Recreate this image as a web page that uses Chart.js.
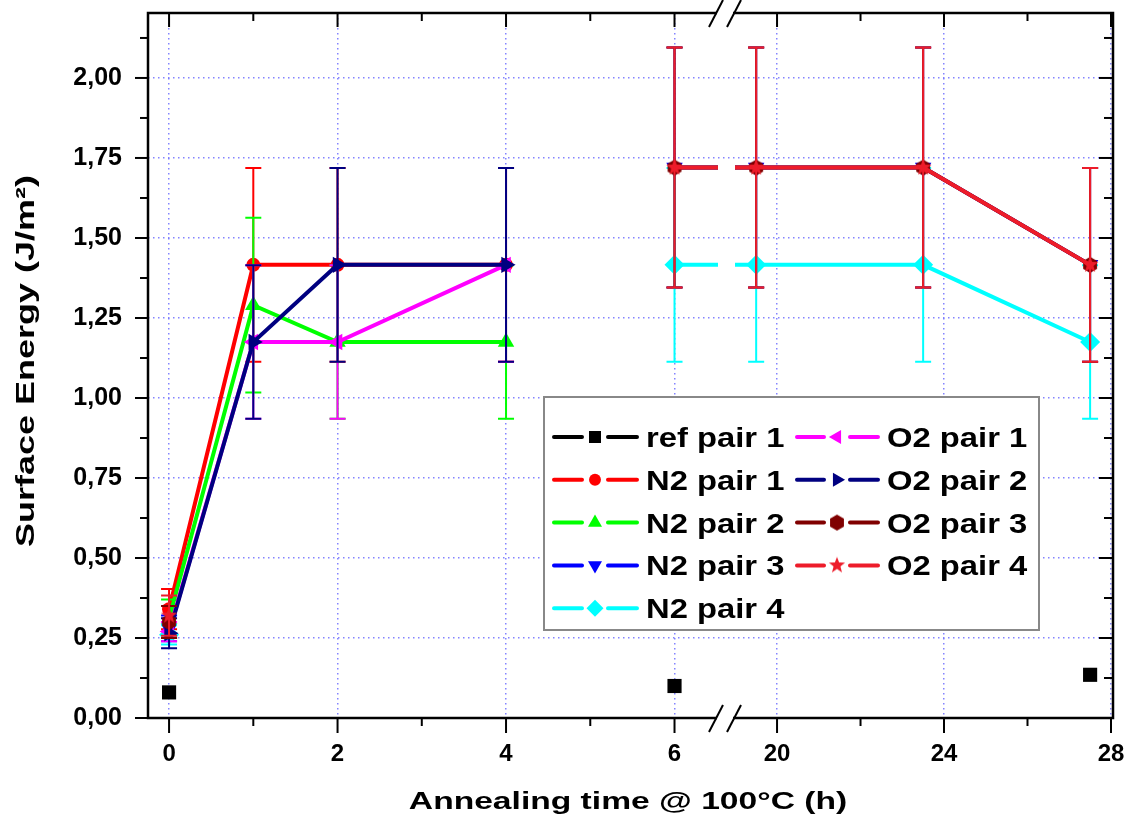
<!DOCTYPE html>
<html>
<head>
<meta charset="utf-8">
<script src="https://cdn.jsdelivr.net/npm/chart.js@4.4.1/dist/chart.umd.min.js"></script>
<style>
  html, body { margin: 0; padding: 0; background: #fff; }
</style>
</head>
<body>
<canvas id="surfChart" width="1128" height="828"></canvas>
<script>
const hours = [0, 1, 2, 4, 6, 19.5, 23.5, 27.5];
const xTickHours = [0, 2, 4, 6, 20, 24, 28];
const xMinorHours = [1, 3, 5, 22, 26];
const yTicks = [0, 0.25, 0.5, 0.75, 1.0, 1.25, 1.5, 1.75, 2.0];

const seriesNames = ['ref pair 1', 'N2 pair 1', 'N2 pair 2', 'N2 pair 3', 'N2 pair 4',
                     'O2 pair 1', 'O2 pair 2', 'O2 pair 3', 'O2 pair 4'];

const refPair1 = [0.08, null, null, null, 0.10, null, null, 0.135];
const n2Pair1  = [0.34, 1.416, 1.416, 1.416, null, null, null, null];
const n2Pair2  = [0.31, 1.29, 1.175, 1.175, null, null, null, null];
const n2Pair3  = [0.28, null, null, null, 1.72, 1.72, 1.72, 1.416];
const n2Pair4  = [0.26, null, null, null, 1.416, 1.416, 1.416, 1.175];
const o2Pair1  = [0.27, 1.175, 1.175, 1.416, null, null, null, null];
const o2Pair2  = [0.265, 1.175, 1.416, 1.416, null, null, null, null];
const o2Pair3  = [0.30, null, null, null, 1.72, 1.72, 1.72, 1.416];
const o2Pair4  = [0.32, null, null, null, 1.72, 1.72, 1.72, 1.416];

// error bar half-widths
const refErr   = [0, 0, 0, 0, 0, 0, 0, 0];
const n2Err1   = [0.063, 0.303, 0.303, 0.303, 0, 0, 0, 0];
const n2Err2   = [0.06, 0.273, 0.24, 0.24, 0, 0, 0, 0];
const n2Err3   = [0.04, 0, 0, 0, 0.375, 0.375, 0.375, 0.303];
const n2Err4   = [0.03, 0, 0, 0, 0.303, 0.303, 0.303, 0.24];
const o2Err1   = [0.03, 0.24, 0.24, 0.303, 0, 0, 0, 0];
const o2Err2   = [0.047, 0.24, 0.303, 0.303, 0, 0, 0, 0];
const o2Err3   = [0.05, 0, 0, 0, 0.375, 0.375, 0.375, 0.303];
const o2Err4   = [0.063, 0, 0, 0, 0.375, 0.375, 0.375, 0.303];

// broken x axis: 0..6 h at full scale, 20..28 h at about half scale
const RESUME_U = 7.217, RIGHT_RATIO = 0.4955;
const GAP_U0 = 6.516, GAP_U1 = 6.718;
function toU(h) { return h <= 6 ? h : RESUME_U + (h - 20) * RIGHT_RATIO; }
function fromU(u) { return u <= 6.5 ? u : 20 + (u - RESUME_U) / RIGHT_RATIO; }

function shapeCanvas(color, size, drawFn) {
  const c = document.createElement('canvas');
  c.width = c.height = size;
  const g = c.getContext('2d');
  g.fillStyle = color;
  g.beginPath();
  drawFn(g, size / 2);
  g.closePath();
  g.fill();
  return c;
}
const hexagon = shapeCanvas('#800000', 18, (g, r) => {
  for (let k = 0; k < 6; k++) {
    const a = -Math.PI / 2 + k * Math.PI / 3;
    g.lineTo(r + (r - 1) * Math.cos(a), r + (r - 1) * Math.sin(a));
  }
});
const star = shapeCanvas('#ed1c2a', 18, (g, r) => {
  for (let k = 0; k < 10; k++) {
    const a = -Math.PI / 2 + k * Math.PI / 5;
    const rr = k % 2 ? 3.6 : r - 0.5;
    g.lineTo(r + rr * Math.cos(a), r + rr * Math.sin(a));
  }
});

const values = [refPair1, n2Pair1, n2Pair2, n2Pair3, n2Pair4, o2Pair1, o2Pair2, o2Pair3, o2Pair4];
const errors = [refErr, n2Err1, n2Err2, n2Err3, n2Err4, o2Err1, o2Err2, o2Err3, o2Err4];
const colors = ['#000000', '#ff0000', '#00ff00', '#0000ff', '#00ffff', '#ff00ff', '#000080', '#800000', '#ed1c2a'];
const styles = [
  {pointStyle: 'rect', radius: 10, rotation: 0},
  {pointStyle: 'circle', radius: 7, rotation: 0},
  {pointStyle: 'triangle', radius: 9.5, rotation: 0},
  {pointStyle: 'triangle', radius: 9.5, rotation: 180},
  {pointStyle: 'rectRot', radius: 10, rotation: 0},
  {pointStyle: 'triangle', radius: 9.5, rotation: 270},
  {pointStyle: 'triangle', radius: 9.5, rotation: 90},
  {pointStyle: hexagon, radius: 8, rotation: 0},
  {pointStyle: star, radius: 8, rotation: 0}
];

function breakDash(sc) {
  const u0 = toU(hours[sc.p0DataIndex]), u1 = toU(hours[sc.p1DataIndex]);
  if (!(u0 < GAP_U0 && u1 > GAP_U1)) return undefined;
  const L = Math.hypot(sc.p1.x - sc.p0.x, sc.p1.y - sc.p0.y);
  const f0 = (GAP_U0 - u0) / (u1 - u0), f1 = (GAP_U1 - u0) / (u1 - u0);
  return [f0 * L, (f1 - f0) * L, L];
}

const datasets = values.map((vals, i) => ({
  label: seriesNames[i],
  data: vals.map((v, j) => ({x: toU(hours[j]), y: v})),
  errors: errors[i],
  borderColor: colors[i],
  backgroundColor: colors[i],
  pointBorderColor: colors[i],
  pointBackgroundColor: colors[i],
  borderWidth: 4,
  pointStyle: styles[i].pointStyle,
  pointRadius: styles[i].radius,
  pointRotation: styles[i].rotation,
  pointBorderWidth: 0,
  showLine: i !== 0,
  spanGaps: false,
  order: values.length - i,
  segment: {borderDash: breakDash}
}));

const FONT = '"Liberation Sans", Arial, sans-serif';

const errorBars = {
  id: 'errorBars',
  afterDatasetDraw(chart, args) {
    const ds = chart.data.datasets[args.index];
    if (!ds.errors) return;
    const {ctx} = chart;
    const x = chart.scales.x, y = chart.scales.y;
    ctx.save();
    ctx.strokeStyle = ds.borderColor;
    ctx.lineWidth = 2;
    ds.data.forEach((p, i) => {
      const e = ds.errors[i];
      if (p.y == null || !e) return;
      const px = x.getPixelForValue(p.x);
      const top = y.getPixelForValue(p.y + e), bot = y.getPixelForValue(p.y - e);
      ctx.beginPath();
      ctx.moveTo(px, top); ctx.lineTo(px, bot);
      ctx.moveTo(px - 8, top); ctx.lineTo(px + 8, top);
      ctx.moveTo(px - 8, bot); ctx.lineTo(px + 8, bot);
      ctx.stroke();
    });
    ctx.restore();
  }
};

const boxLegend = {
  id: 'boxLegend',
  afterDatasetsDraw(chart) {
    const {ctx} = chart;
    const box = {l: 544, t: 397, r: 1039, b: 630};
    ctx.save();
    ctx.fillStyle = '#fff';
    ctx.fillRect(box.l, box.t, box.r - box.l, box.b - box.t);
    ctx.strokeStyle = '#888';
    ctx.lineWidth = 2;
    ctx.strokeRect(box.l, box.t, box.r - box.l, box.b - box.t);
    const cols = [{x0: 554, mx: 595, x1: 637, tx: 646}, {x0: 797, mx: 837, x1: 878, tx: 887}];
    chart.data.datasets.forEach((ds, i) => {
      const col = cols[i < 5 ? 0 : 1];
      const row = i < 5 ? i : i - 5;
      const cy = 437 + row * 42.8;
      ctx.strokeStyle = ds.borderColor;
      ctx.lineWidth = 4;
      ctx.lineCap = 'round';
      ctx.beginPath();
      ctx.moveTo(col.x0, cy); ctx.lineTo(col.mx - 13, cy);
      ctx.moveTo(col.mx + 13, cy); ctx.lineTo(col.x1, cy);
      ctx.stroke();
      ctx.fillStyle = ds.borderColor;
      Chart.helpers.drawPoint(ctx, {
        pointStyle: ds.pointStyle, radius: ds.pointRadius * 0.85,
        rotation: ds.pointRotation, borderWidth: 0
      }, col.mx, cy);
      ctx.save();
      ctx.fillStyle = '#000';
      ctx.font = 'bold 28px ' + FONT;
      ctx.textBaseline = 'alphabetic';
      ctx.translate(col.tx, cy + 10);
      ctx.scale(1.17, 1);
      ctx.fillText(ds.label, 0, 0);
      ctx.restore();
    });
    ctx.restore();
  }
};

const frame = {
  id: 'frame',
  afterDraw(chart) {
    const {ctx, chartArea: a} = chart;
    const x = chart.scales.x, y = chart.scales.y;
    ctx.save();
    ctx.strokeStyle = '#000';
    ctx.lineWidth = 2.5;
    ctx.strokeRect(a.left, a.top, a.right - a.left, a.bottom - a.top);
    ctx.lineWidth = 2;
    const seg = (x1, y1, x2, y2) => { ctx.beginPath(); ctx.moveTo(x1, y1); ctx.lineTo(x2, y2); ctx.stroke(); };
    for (let k = 0; k * 0.125 <= y.max; k++) {
      const py = y.getPixelForValue(k * 0.125);
      const len = k % 2 === 0 ? 13 : 8;
      seg(a.left - len, py, a.left, py);
      seg(a.right - len - 1, py, a.right, py);
    }
    xTickHours.forEach(h => {
      const px = x.getPixelForValue(toU(h));
      seg(px, a.bottom, px, a.bottom + 15);
      seg(px, a.top, px, a.top + 14);
    });
    xMinorHours.forEach(h => {
      const px = x.getPixelForValue(toU(h));
      seg(px, a.bottom, px, a.bottom + 8);
      seg(px, a.top, px, a.top + 8);
    });
    // axis break marks
    const c1 = x.getPixelForValue(GAP_U0) - 2, c2 = x.getPixelForValue(GAP_U1) - 1;
    [a.bottom, a.top].forEach(ay => {
      ctx.fillStyle = '#fff';
      ctx.fillRect(c1 + 1, ay - 3, c2 - c1 - 2, 6);
      ctx.strokeStyle = '#000';
      ctx.lineWidth = 2;
      seg(c1 - 7, ay + 14, c1 + 7, ay - 13);
      seg(c2 - 7, ay + 14, c2 + 7, ay - 13);
    });
    // axis titles (stretched like the original figure)
    ctx.fillStyle = '#000';
    ctx.font = 'bold 24px ' + FONT;
    ctx.textAlign = 'center';
    ctx.textBaseline = 'alphabetic';
    ctx.save();
    ctx.translate(628, 809);
    ctx.scale(1.4, 1);
    ctx.fillText('Annealing time @ 100°C (h)', 0, 0);
    ctx.restore();
    ctx.save();
    ctx.translate(34, 361);
    ctx.rotate(-Math.PI / 2);
    ctx.scale(1.5, 1.08);
    ctx.fillText('Surface Energy (J/m²)', 0, 0);
    ctx.restore();
    ctx.restore();
  }
};

const gridStyle = {
  color: 'rgba(110, 110, 255, 0.85)',
  lineWidth: 1.5,
  drawTicks: false
};
const gridBorder = {display: false, dash: [1.5, 3.5]};

const chart = new Chart(document.getElementById('surfChart').getContext('2d'), {
  type: 'line',
  data: {datasets},
  options: {
    responsive: false,
    animation: false,
    events: [],
    devicePixelRatio: 1,
    layout: {padding: {top: 13, right: 15, left: 0, bottom: 0}},
    plugins: {legend: {display: false}, tooltip: {enabled: false}},
    scales: {
      x: {
        type: 'linear',
        min: -0.25,
        max: 11.205,
        border: gridBorder,
        grid: gridStyle,
        afterBuildTicks: s => { s.ticks = xTickHours.map(h => ({value: toU(h)})); },
        afterFit: s => { s.height = 110; s.paddingLeft = 0; s.paddingRight = 0; },
        ticks: {
          autoSkip: false,
          maxRotation: 0,
          padding: 22,
          color: '#000',
          font: {family: FONT, size: 24, weight: 'bold'},
          callback: v => String(Math.round(fromU(v)))
        }
      },
      y: {
        type: 'linear',
        min: 0,
        max: 2.203,
        border: gridBorder,
        grid: gridStyle,
        afterBuildTicks: s => { s.ticks = yTicks.map(v => ({value: v})); },
        afterFit: s => { s.width = 148; s.paddingTop = 0; s.paddingBottom = 0; },
        ticks: {
          padding: 26,
          color: '#000',
          font: {family: FONT, size: 25, weight: 'bold'},
          callback: v => v.toFixed(2).replace('.', ',')
        }
      }
    }
  },
  plugins: [errorBars, boxLegend, frame]
});
</script>
</body>
</html>
